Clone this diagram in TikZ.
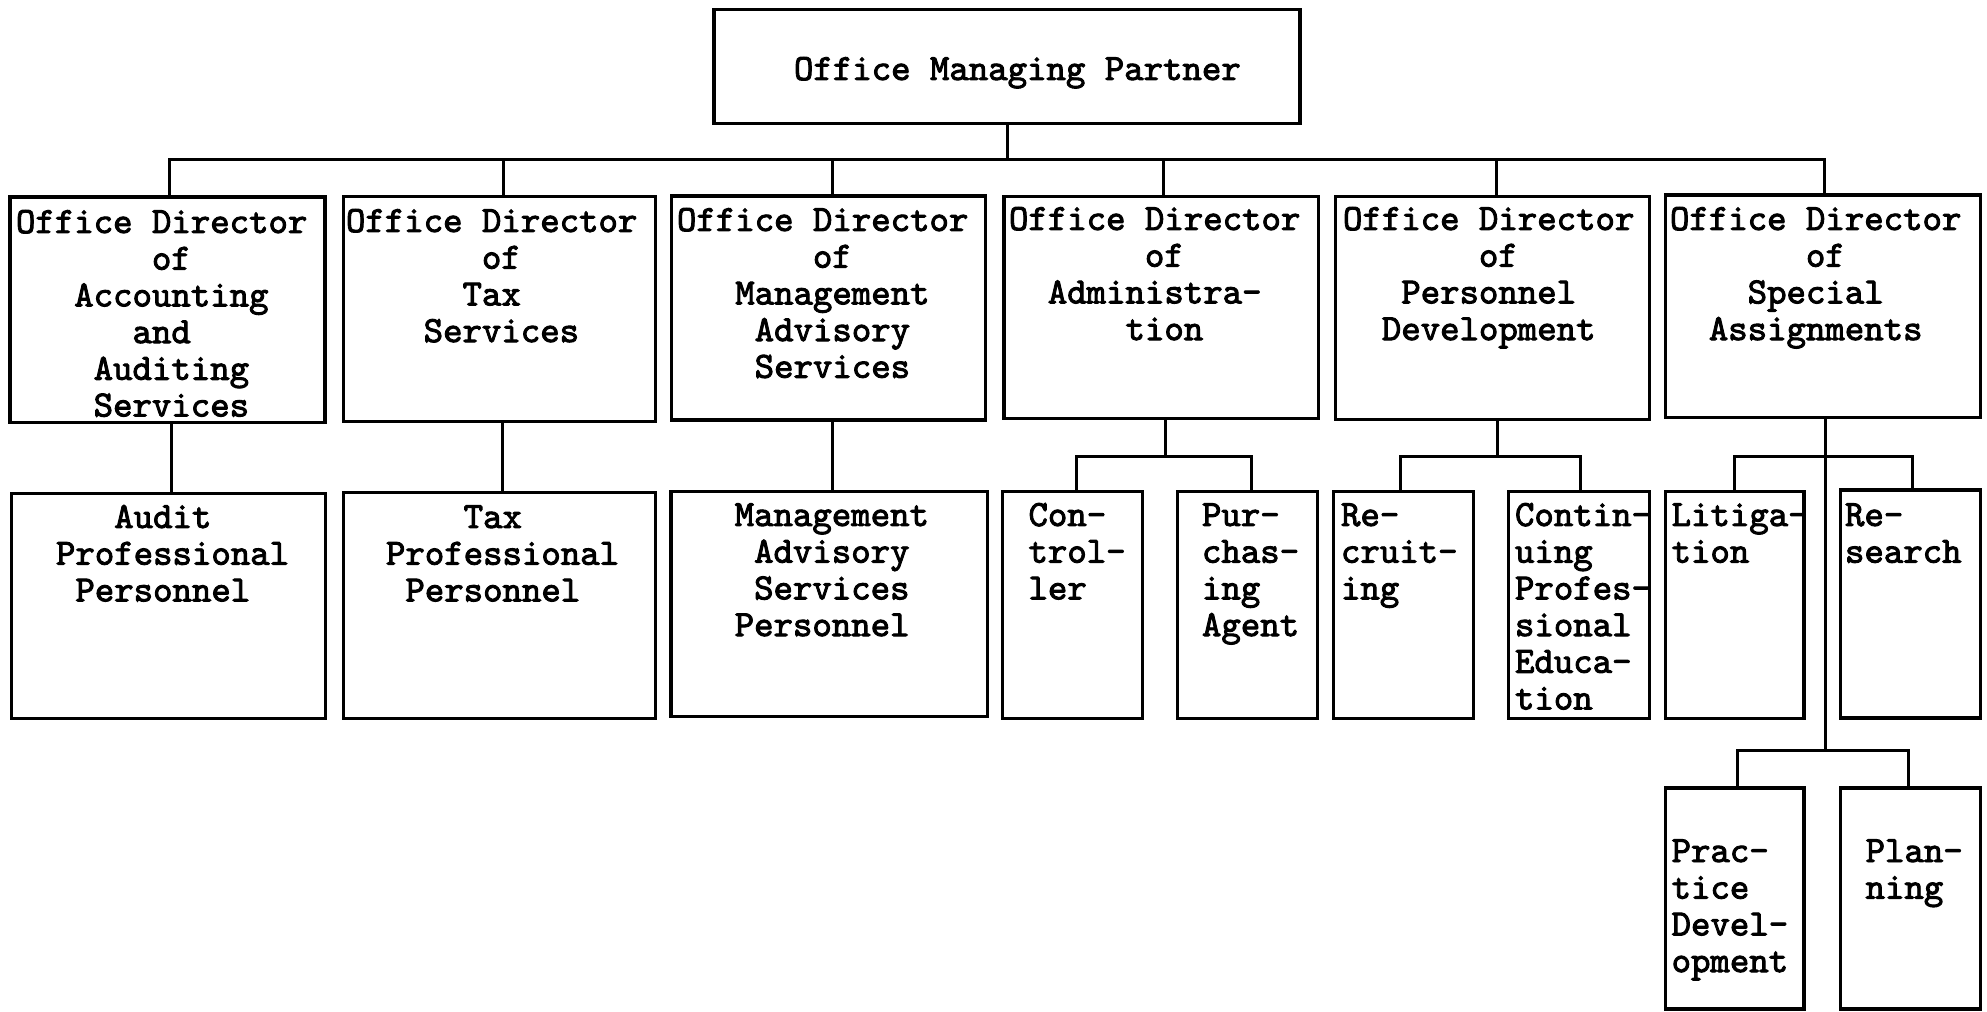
\documentclass[tikz,border=0pt]{standalone}
\usepackage{fontspec}
% typewriter face, emboldened like a ribbon impression
\newfontfamily\typefont{lmmono10-regular}[Extension=.otf, FakeBold=2.5]
\newdimen\chw
\chw=19.425pt % one character cell at 37pt
\newcommand\indc[1]{\hspace*{#1\chw}}
\newcommand\tyf{\typefont\fontsize{37}{36.7}\selectfont}

\begin{document}
\begin{tikzpicture}[x=1pt, y=-1pt,
  box/.style={draw, rectangle, line width=3.3pt, inner sep=0pt, outer sep=0pt},
  txt/.style={anchor=north west, inner sep=0pt, outer sep=0pt, align=left, font=\tyf},
  link/.style={line width=3pt}]

\useasboundingbox (0,0) rectangle (1987,1012);

% ---- boxes ----
\node[box, minimum width=586, minimum height=114] (top) at (1007,66.3) {};

\node[box, minimum width=315, minimum height=225.7] (d1) at (167.5,309.8) {};
\node[box, minimum width=312.5, minimum height=225] (d2) at (499.4,309.2) {};
\node[box, minimum width=313.7, minimum height=224] (d3) at (828.5,308) {};
\node[box, minimum width=314.7, minimum height=221.6] (d4) at (1161.4,307.5) {};
\node[box, minimum width=314, minimum height=222.6] (d5) at (1492.4,308) {};
\node[box, minimum width=315.4, minimum height=222.3] (d6) at (1823,306.2) {};

\node[box, minimum width=313.8, minimum height=225] (p1) at (168.4,605.8) {};
\node[box, minimum width=312.5, minimum height=225.6] (p2) at (499.4,605.5) {};
\node[box, minimum width=316.3, minimum height=225] (p3) at (829,604.2) {};

\node[box, minimum width=140, minimum height=226.5] (ctrl) at (1072.7,605) {};
\node[box, minimum width=140, minimum height=226.5] (purch) at (1247.5,605) {};
\node[box, minimum width=140, minimum height=226.5] (recruit) at (1403.3,605) {};
\node[box, minimum width=141.2, minimum height=226.5] (contin) at (1578.8,605) {};
\node[box, minimum width=138.6, minimum height=226.5] (litig) at (1734.6,605) {};
\node[box, minimum width=140, minimum height=228] (research) at (1910.8,603.9) {};

\node[box, minimum width=138.6, minimum height=221] (practice) at (1734.6,898.5) {};
\node[box, minimum width=140, minimum height=221] (planning) at (1910.8,898.5) {};

% ---- texts ----
\node[txt] (top-t) at (794,54.3) {\strut Office Managing Partner};

\node[txt] (d1-t) at (16,207.3) {\strut Office Director\\\indc{7}of\\\indc{3}Accounting\\\indc{6}and\\\indc{4}Auditing\\\indc{4}Services};
\node[txt] (d2-t) at (346,206.3) {\strut Office Director\\\indc{7}of\\\indc{6}Tax\\\indc{4}Services};
\node[txt] (d3-t) at (677,205.3) {\strut Office Director\\\indc{7}of\\\indc{3}Management\\\indc{4}Advisory\\\indc{4}Services};
\node[txt] (d4-t) at (1009,204.3) {\strut Office Director\\\indc{7}of\\\indc{2}Administra-\\\indc{6}tion};
\node[txt] (d5-t) at (1343,204.3) {\strut Office Director\\\indc{7}of\\\indc{3}Personnel\\\indc{2}Development};
\node[txt] (d6-t) at (1670,204.3) {\strut Office Director\\\indc{7}of\\\indc{4}Special\\\indc{2}Assignments};

\node[txt] (p1-t) at (56,502.3) {\strut\indc{3}Audit\\Professional\\\indc{1}Personnel};
\node[txt] (p2-t) at (386,502.3) {\strut\indc{4}Tax\\Professional\\\indc{1}Personnel};
\node[txt] (p3-t) at (734.7,500.3) {\strut Management\\\indc{1}Advisory\\\indc{1}Services\\Personnel};

\node[txt] (ctrl-t) at (1028.5,500.3) {\strut Con-\\trol-\\ler};
\node[txt] (purch-t) at (1202,500.3) {\strut Pur-\\chas-\\ing\\Agent};
\node[txt] (recruit-t) at (1341,500.3) {\strut Re-\\cruit-\\ing};
\node[txt] (contin-t) at (1515,500.3) {\strut Contin-\\uing\\Profes-\\sional\\Educa-\\tion};
\node[txt] (litig-t) at (1671.6,500.3) {\strut Litiga-\\tion};
\node[txt] (research-t) at (1845,500.3) {\strut Re-\\search};
\node[txt] (practice-t) at (1671.6,836.3) {\strut Prac-\\tice\\Devel-\\opment};
\node[txt] (planning-t) at (1865.6,836.3) {\strut Plan-\\ning};

% ---- connector levels ----
\coordinate (bus) at (1007,159.5);
\coordinate (sub) at (1007,456.5);
\coordinate (sub2) at (1007,750.3);

% partner to directors
\draw[link] (top.south) -- (top.south |- bus);
\draw[link] ([xshift=1.5]d1.north) |- ([xshift=1.9]d6.north |- bus) -- ([xshift=1.9]d6.north);
\foreach \n/\s in {d2/4.4, d3/3.8, d4/1.6, d5/4.4}
  \draw[link] ([xshift=\s]\n.north) -- ([xshift=\s]\n.north |- bus);

% directors to their staff
\draw[link] ([xshift=3.5]d1.south) -- ([xshift=3.5]d1.south |- p1.north);
\draw[link] ([xshift=3.2]d2.south) -- ([xshift=3.2]d2.south |- p2.north);
\draw[link] ([xshift=3.8]d3.south) -- ([xshift=3.8]d3.south |- p3.north);

\draw[link] ([xshift=3.6]d4.south) -- ([xshift=3.6]d4.south |- sub);
\draw[link] ([xshift=3.3]ctrl.north) |- ([xshift=3.5]purch.north |- sub) -- ([xshift=3.5]purch.north);

\draw[link] ([xshift=4.6]d5.south) -- ([xshift=4.6]d5.south |- sub);
\draw[link] ([xshift=-3.3]recruit.north) |- ([xshift=1.2]contin.north |- sub) -- ([xshift=1.2]contin.north);

\draw[link] ([xshift=2]d6.south) -- ([xshift=2]d6.south |- sub2);
\draw[link] (litig.north) |- ([xshift=2]research.north |- sub) -- ([xshift=2]research.north);
\draw[link] ([xshift=2.5]practice.north) |- ([xshift=-2]planning.north |- sub2) -- ([xshift=-2]planning.north);

\end{tikzpicture}
\end{document}
